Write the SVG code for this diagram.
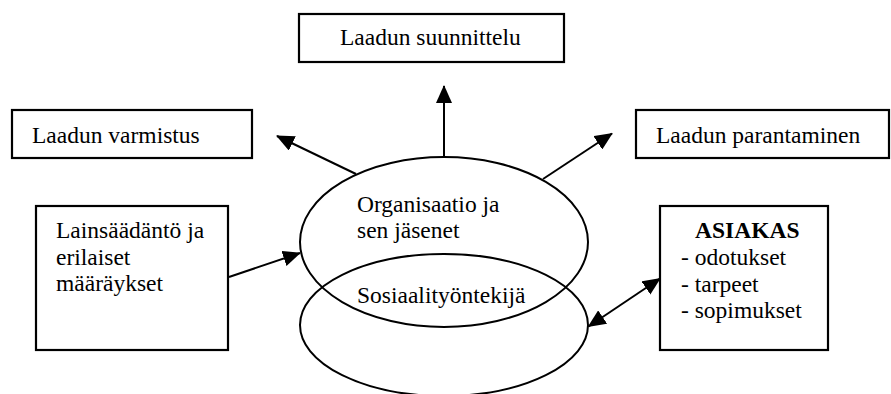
<svg xmlns="http://www.w3.org/2000/svg" width="891" height="394" viewBox="0 0 891 394">
<style>
.box{fill:#fff;stroke:#000;stroke-width:2.2}
.ell{fill:none;stroke:#000;stroke-width:2}
.t{font-family:"Liberation Serif","Times New Roman",serif;font-size:23.5px;fill:#000}
.b{font-weight:bold}
.c{stroke:#000;stroke-width:2;fill:none}
</style>
<defs>
<marker id="ah" viewBox="0 0 18 16" refX="17" refY="8" markerWidth="18" markerHeight="16" markerUnits="userSpaceOnUse" orient="auto-start-reverse">
<path d="M0,0 L18,8 L0,16 Z" fill="#000"/>
</marker>
</defs>
<rect width="891" height="394" fill="#fff"/>
<g id="suunnittelu"><rect class="box" x="299" y="14" width="265" height="48"/><text class="t" x="340" y="45">Laadun suunnittelu</text></g>
<g id="varmistus"><rect class="box" x="12" y="110" width="240" height="48"/><text class="t" x="32" y="143">Laadun varmistus</text></g>
<g id="parantaminen"><rect class="box" x="636" y="110" width="253" height="48"/><text class="t" x="656" y="143">Laadun parantaminen</text></g>
<g id="lainsaadanto"><rect class="box" x="36" y="206" width="192" height="144"/><text class="t" x="56" y="238">Lainsäädäntö ja</text><text class="t" x="56" y="264.5">erilaiset</text><text class="t" x="56" y="291">määräykset</text></g>
<g id="asiakas"><rect class="box" x="660" y="206" width="168" height="144"/><text class="t b" x="695" y="238">ASIAKAS</text><text class="t" x="681" y="265">- odotukset</text><text class="t" x="681" y="291.5">- tarpeet</text><text class="t" x="681" y="318">- sopimukset</text></g>
<g id="sosiaalityontekija"><ellipse class="ell" cx="444" cy="325" rx="144" ry="71"/><text class="t" x="357" y="303">Sosiaalityöntekijä</text></g>
<g id="organisaatio"><ellipse class="ell" cx="444" cy="242" rx="144" ry="85"/><text class="t" x="357" y="211.5">Organisaatio ja</text><text class="t" x="357" y="238">sen jäsenet</text></g>
<g id="connectors">
<line class="c" x1="444" y1="157" x2="444" y2="86" marker-end="url(#ah)"/>
<line class="c" x1="356" y1="174" x2="277" y2="136" marker-end="url(#ah)"/>
<line class="c" x1="543" y1="179" x2="612" y2="133.5" marker-end="url(#ah)"/>
<line class="c" x1="229" y1="277" x2="300" y2="253" marker-end="url(#ah)"/>
<line class="c" x1="588.5" y1="326.5" x2="660" y2="278.5" marker-start="url(#ah)" marker-end="url(#ah)"/>
</g>
</svg>
